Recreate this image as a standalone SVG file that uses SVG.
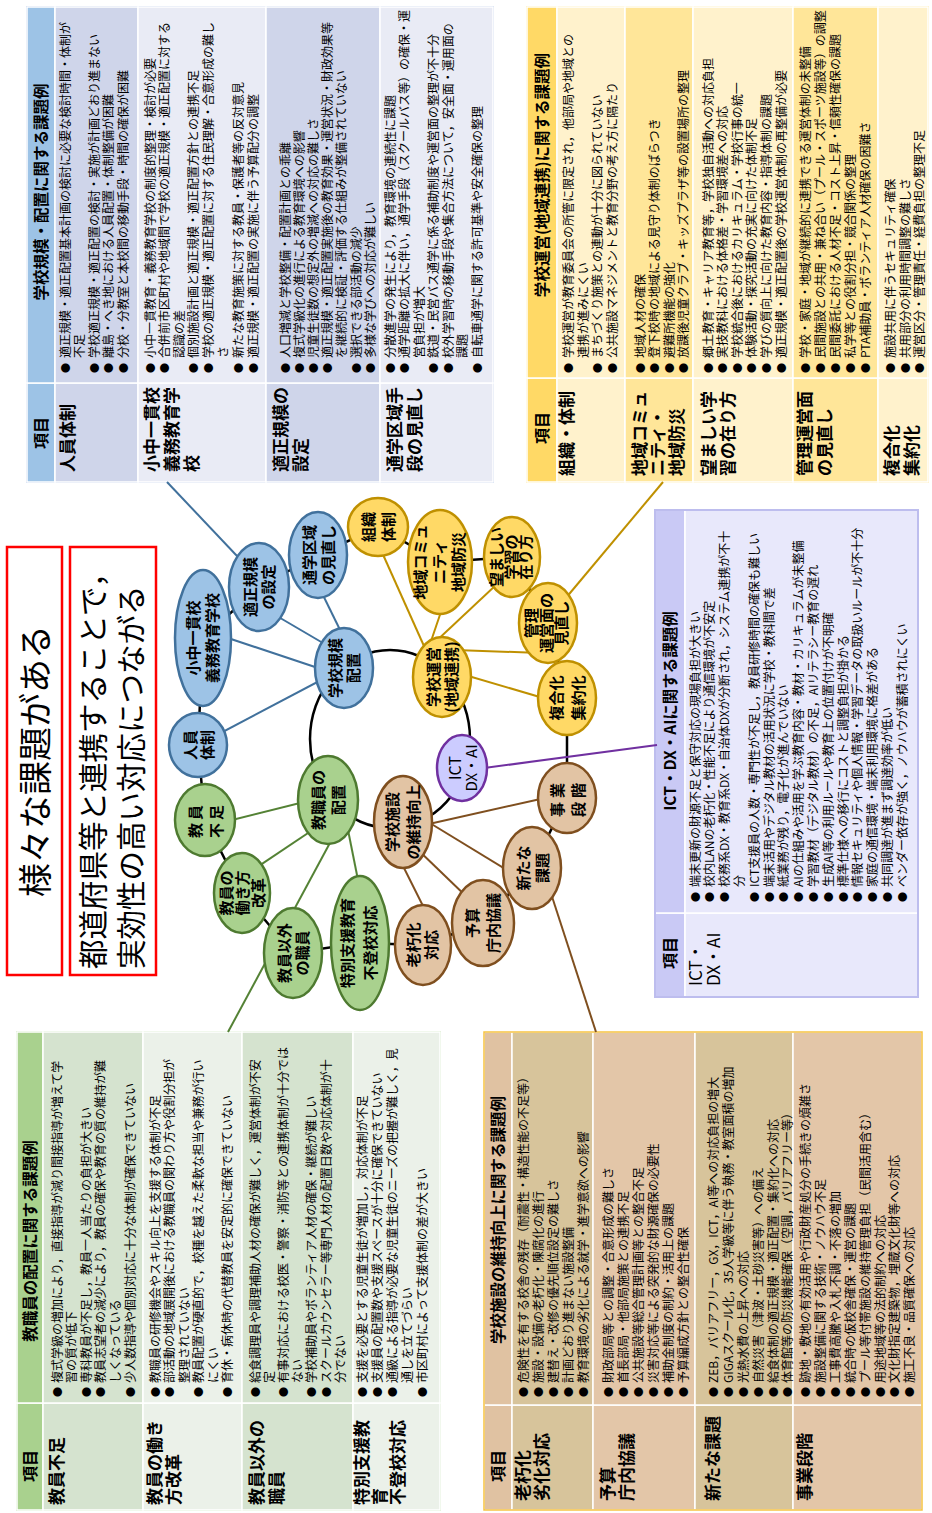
<svg xmlns="http://www.w3.org/2000/svg" width="932" height="1513" viewBox="0 0 932 1513">
<style>
text{font-family:"Noto Sans CJK JP","Noto Sans",sans-serif;fill:#000}
.c{font-size:12px}
.b{font-size:10px}
.h{font-size:15.5px;font-weight:700;text-anchor:middle}
.k{font-size:16px;font-weight:700;text-anchor:middle}
.l{font-size:17px;font-weight:700}
.n{font-size:15px;font-weight:700;text-anchor:middle}
.cell{stroke:#fff;stroke-width:1.5}
.ring{fill:none;stroke:#000;stroke-width:2.5}
.bl{stroke:#41719C;stroke-width:2;fill:none}
.go{stroke:#BF9000;stroke-width:2;fill:none}
.br{stroke:#7F4F1F;stroke-width:2;fill:none}
.gr{stroke:#548235;stroke-width:2;fill:none}
.pu{stroke:#7030A0;stroke-width:2;fill:none}
.eb{fill:#9DC3E6;stroke:#41719C;stroke-width:2.5}
.eg{fill:#FFD966;stroke:#BF9000;stroke-width:2.5}
.ep{fill:#CCCCFF;stroke:#7030A0;stroke-width:2.5}
.et{fill:#E2C4A4;stroke:#7F4F1F;stroke-width:2.5}
.en{fill:#A9D18E;stroke:#4E7A30;stroke-width:2.5}
</style>
<g transform="translate(0,1513) rotate(-90)">

<!-- Title boxes -->
<g id="title1">
<rect x="538" y="7" width="428" height="55" fill="#fff" stroke="#FF0000" stroke-width="2.5"/>
<text x="752" y="48" font-size="34" text-anchor="middle">様々な課題がある</text>
</g>
<g id="title2">
<rect x="538" y="70" width="428" height="86" fill="#fff" stroke="#FF0000" stroke-width="2.5"/>
<text x="544" y="104" font-size="29.5">都道府県等と連携することで，</text>
<text x="544" y="142" font-size="29.5">実効性の高い対応につながる</text>
</g>

<!-- Table A: 学校規模・配置 -->
<g id="table-scale">
<rect x="1031" y="27" width="475" height="466" fill="none" stroke="#B4C7E7" stroke-width="2"/>
<rect class="cell" x="1031" y="27" width="99" height="28" fill="#9DC3E6"/>
<rect class="cell" x="1130" y="27" width="376" height="28" fill="#9DC3E6"/>
<rect class="cell" x="1031" y="55" width="99" height="83" fill="#CFD5EA"/>
<rect class="cell" x="1130" y="55" width="376" height="83" fill="#CFD5EA"/>
<rect class="cell" x="1031" y="138" width="99" height="128" fill="#E9EBF5"/>
<rect class="cell" x="1130" y="138" width="376" height="128" fill="#E9EBF5"/>
<rect class="cell" x="1031" y="266" width="99" height="114" fill="#CFD5EA"/>
<rect class="cell" x="1130" y="266" width="376" height="114" fill="#CFD5EA"/>
<rect class="cell" x="1031" y="380" width="99" height="113" fill="#E9EBF5"/>
<rect class="cell" x="1130" y="380" width="376" height="113" fill="#E9EBF5"/>
<text class="k" x="1080" y="47">項目</text>
<text class="h" x="1321" y="47">学校規模・配置に関する課題例</text>
<text class="l" x="1041" y="74">人員体制</text>
<text class="l" x="1041" y="158">小中一貫校</text>
<text class="l" x="1041" y="178">義務教育学</text>
<text class="l" x="1041" y="198">校</text>
<text class="l" x="1041" y="287">適正規模の</text>
<text class="l" x="1041" y="307">設定</text>
<text class="l" x="1041" y="401">通学区域手</text>
<text class="l" x="1041" y="421">段の見直し</text>
<text class="c" y="69.5"><tspan class="b" x="1140">●</tspan><tspan x="1155">適正規模・適正配置基本計画の検討に必要な検討時間・体制が</tspan></text>
<text class="c" x="1155" y="84.1">不足</text>
<text class="c" y="98.7"><tspan class="b" x="1140">●</tspan><tspan x="1155">学校適正規模・適正配置の検討・実施が計画どおり進まない</tspan></text>
<text class="c" y="113.3"><tspan class="b" x="1140">●</tspan><tspan x="1155">離島・へき地における人員配置・体制整備が困難</tspan></text>
<text class="c" y="127.9"><tspan class="b" x="1140">●</tspan><tspan x="1155">分校・分教室と本校間の移動手段・時間の確保が困難</tspan></text>
<text class="c" y="154.5"><tspan class="b" x="1140">●</tspan><tspan x="1155">小中一貫教育・義務教育学校の制度的整理・検討が必要</tspan></text>
<text class="c" y="169.1"><tspan class="b" x="1140">●</tspan><tspan x="1155">合併前市区町村や地域間で学校の適正規模・適正配置に対する</tspan></text>
<text class="c" x="1155" y="183.7">認識の差</text>
<text class="c" y="198.3"><tspan class="b" x="1140">●</tspan><tspan x="1155">個別施設計画と適正規模・適正配置方針との連携不足</tspan></text>
<text class="c" y="212.9"><tspan class="b" x="1140">●</tspan><tspan x="1155">学校の適正規模・適正配置に対する住民理解・合意形成の難し</tspan></text>
<text class="c" x="1155" y="227.5">さ</text>
<text class="c" y="243"><tspan class="b" x="1140">●</tspan><tspan x="1155">新たな教育施策に対する教員・保護者等の反対意見</tspan></text>
<text class="c" y="257.6"><tspan class="b" x="1140">●</tspan><tspan x="1155">適正規模・適正配置の実施に伴う予算配分の調整</tspan></text>
<text class="c" y="289.5"><tspan class="b" x="1140">●</tspan><tspan x="1155">人口増減と学校整備・配置計画との乖離</tspan></text>
<text class="c" y="303.7"><tspan class="b" x="1140">●</tspan><tspan x="1155">複式学級化の進行による教育環境への影響</tspan></text>
<text class="c" y="317.9"><tspan class="b" x="1140">●</tspan><tspan x="1155">児童生徒数の想定外の増減への対応の難しさ</tspan></text>
<text class="c" y="332.1"><tspan class="b" x="1140">●</tspan><tspan x="1155">適正規模・適正配置実施後の教育効果・運営状況・財政効果等</tspan></text>
<text class="c" x="1155" y="346.3">を継続的に検証・評価する仕組みが整備されていない</text>
<text class="c" y="360.5"><tspan class="b" x="1140">●</tspan><tspan x="1155">選択できる部活動の減少</tspan></text>
<text class="c" y="374.7"><tspan class="b" x="1140">●</tspan><tspan x="1155">多様な学びへの対応が難しい</tspan></text>
<text class="c" y="394.5"><tspan class="b" x="1140">●</tspan><tspan x="1155">分散進学の発生により，教育環境の連続性に課題</tspan></text>
<text class="c" y="409"><tspan class="b" x="1140">●</tspan><tspan x="1155">通学距離の拡大に伴い，通学手段（スクールバス等）の確保・運</tspan></text>
<text class="c" x="1155" y="423.5">営負担が増大</text>
<text class="c" y="438"><tspan class="b" x="1140">●</tspan><tspan x="1155">鉄道・民営バス通学に係る補助制度や運営面の整理が不十分</tspan></text>
<text class="c" y="452.5"><tspan class="b" x="1140">●</tspan><tspan x="1155">校外学習時の移動手段や集合方法について，安全面・運用面の</tspan></text>
<text class="c" x="1155" y="467">課題</text>
<text class="c" y="481.5"><tspan class="b" x="1140">●</tspan><tspan x="1155">自転車通学に関する許可基準や安全確保の整理</tspan></text>
</g>

<!-- Table B: 学校運営 -->
<g id="table-management">
<rect x="1031" y="527" width="475" height="401" fill="none" stroke="#FFE699" stroke-width="2"/>
<rect class="cell" x="1031" y="527" width="104" height="30" fill="#FFD966"/>
<rect class="cell" x="1135" y="527" width="371" height="30" fill="#FFD966"/>
<rect class="cell" x="1031" y="557" width="104" height="68" fill="#FFF2CC"/>
<rect class="cell" x="1135" y="557" width="371" height="68" fill="#FFF2CC"/>
<rect class="cell" x="1031" y="625" width="104" height="68" fill="#FFE699"/>
<rect class="cell" x="1135" y="625" width="371" height="68" fill="#FFE699"/>
<rect class="cell" x="1031" y="693" width="104" height="100" fill="#FFF2CC"/>
<rect class="cell" x="1135" y="693" width="371" height="100" fill="#FFF2CC"/>
<rect class="cell" x="1031" y="793" width="104" height="85" fill="#FFE699"/>
<rect class="cell" x="1135" y="793" width="371" height="85" fill="#FFE699"/>
<rect class="cell" x="1031" y="878" width="104" height="50" fill="#FFF2CC"/>
<rect class="cell" x="1135" y="878" width="371" height="50" fill="#FFF2CC"/>
<text class="k" x="1085" y="548">項目</text>
<text class="h" x="1338" y="548">学校運営(地域連携)に関する課題例</text>
<text class="l" x="1037" y="573">組織・体制</text>
<text class="l" x="1037" y="646">地域コミュ</text>
<text class="l" x="1037" y="664">ニティ・</text>
<text class="l" x="1037" y="683">地域防災</text>
<text class="l" x="1037" y="715">望ましい学</text>
<text class="l" x="1037" y="734">習の在り方</text>
<text class="l" x="1037" y="811">管理運営面</text>
<text class="l" x="1037" y="831">の見直し</text>
<text class="l" x="1037" y="898">複合化</text>
<text class="l" x="1037" y="918">集約化</text>
<text class="c" y="572.5"><tspan class="b" x="1140">●</tspan><tspan x="1155">学校運営が教育委員会の所管に限定され，他部局や地域との</tspan></text>
<text class="c" x="1155" y="587.5">連携が進みにくい</text>
<text class="c" y="602"><tspan class="b" x="1140">●</tspan><tspan x="1155">まちづくり施策との連動が十分に図られていない</tspan></text>
<text class="c" y="616.5"><tspan class="b" x="1140">●</tspan><tspan x="1155">公共施設マネジメントと教育分野の考え方に隔たり</tspan></text>
<text class="c" y="644.5"><tspan class="b" x="1140">●</tspan><tspan x="1155">地域人材の確保</tspan></text>
<text class="c" y="659"><tspan class="b" x="1140">●</tspan><tspan x="1155">登下校時の地域による見守り体制のばらつき</tspan></text>
<text class="c" y="673.5"><tspan class="b" x="1140">●</tspan><tspan x="1155">避難所機能の強化</tspan></text>
<text class="c" y="688"><tspan class="b" x="1140">●</tspan><tspan x="1155">放課後児童クラブ・キッズプラザ等の設置場所の整理</tspan></text>
<text class="c" y="712.5"><tspan class="b" x="1140">●</tspan><tspan x="1155">郷土教育・キャリア教育等，学校独自活動への対応負担</tspan></text>
<text class="c" y="727.1"><tspan class="b" x="1140">●</tspan><tspan x="1155">実技教科における体格差・学習環境差への対応</tspan></text>
<text class="c" y="741.7"><tspan class="b" x="1140">●</tspan><tspan x="1155">学校統合後におけるカリキュラム・学校行事の統一</tspan></text>
<text class="c" y="756.3"><tspan class="b" x="1140">●</tspan><tspan x="1155">体験活動・探究活動の充実に向けた体制不足</tspan></text>
<text class="c" y="770.9"><tspan class="b" x="1140">●</tspan><tspan x="1155">学びの質向上に向けた教育内容・指導体制の課題</tspan></text>
<text class="c" y="785.5"><tspan class="b" x="1140">●</tspan><tspan x="1155">適正規模・適正配置後の学校運営体制の再整備が必要</tspan></text>
<text class="c" y="809.5"><tspan class="b" x="1140">●</tspan><tspan x="1155">学校・家庭・地域が継続的に連携できる運営体制の未整備</tspan></text>
<text class="c" y="824.5"><tspan class="b" x="1140">●</tspan><tspan x="1155">民間施設との共用・兼ね合い（プール・スポーツ施設等）の調整</tspan></text>
<text class="c" y="839.5"><tspan class="b" x="1140">●</tspan><tspan x="1155">民間委託における人材不足・コスト上昇・信頼性確保の課題</tspan></text>
<text class="c" y="854.5"><tspan class="b" x="1140">●</tspan><tspan x="1155">私学等との役割分担・競合関係の整理</tspan></text>
<text class="c" y="869.5"><tspan class="b" x="1140">●</tspan><tspan x="1155">PTA補助員・ボランティア人材確保の困難さ</tspan></text>
<text class="c" y="894.5"><tspan class="b" x="1140">●</tspan><tspan x="1155">施設共用に伴うセキュリティ確保</tspan></text>
<text class="c" y="909.5"><tspan class="b" x="1140">●</tspan><tspan x="1155">共用部分の利用時間調整の難しさ</tspan></text>
<text class="c" y="924"><tspan class="b" x="1140">●</tspan><tspan x="1155">運営区分・管理責任・経費負担の整理不足</tspan></text>
</g>

<!-- Table C: ICT -->
<g id="table-ict">
<rect class="cell" x="516" y="655" width="84" height="30" fill="#C9C9F5"/>
<rect class="cell" x="600" y="655" width="403" height="30" fill="#C9C9F5"/>
<rect class="cell" x="516" y="685" width="84" height="233" fill="#E8E8FB"/>
<rect class="cell" x="600" y="685" width="403" height="233" fill="#E8E8FB"/>
<rect x="516" y="655" width="487" height="263" fill="none" stroke="#BDBDEE" stroke-width="2"/>
<text class="k" x="560" y="676">項目</text>
<text class="h" x="802" y="676">ICT・DX・AIに関する課題例</text>
<text x="527" y="702" font-size="17">ICT・</text>
<text x="527" y="720" font-size="17">DX・AI</text>
<text class="c" y="699.5"><tspan class="b" x="611">●</tspan><tspan x="626">端末更新の財源不足と保守対応の現場負担が大きい</tspan></text>
<text class="c" y="714.3"><tspan class="b" x="611">●</tspan><tspan x="626">校内LANの老朽化・性能不足により通信環境が不安定</tspan></text>
<text class="c" y="729.1"><tspan class="b" x="611">●</tspan><tspan x="626">校務系DX・教育系DX・自治体DXが分断され，システム連携が不十</tspan></text>
<text class="c" x="626" y="743.9">分</text>
<text class="c" y="758.7"><tspan class="b" x="611">●</tspan><tspan x="626">ICT支援員の人数・専門性が不足し，教員研修時間の確保も難しい</tspan></text>
<text class="c" y="773.5"><tspan class="b" x="611">●</tspan><tspan x="626">端末活用やデジタル教材の活用状況に学校・教科間で差</tspan></text>
<text class="c" y="788.3"><tspan class="b" x="611">●</tspan><tspan x="626">紙業務が残り，電子化が進んでいない</tspan></text>
<text class="c" y="803.1"><tspan class="b" x="611">●</tspan><tspan x="626">AIの仕組みや活用を学ぶ教育内容・教材・カリキュラムが未整備</tspan></text>
<text class="c" y="817.9"><tspan class="b" x="611">●</tspan><tspan x="626">学習教材（デジタル教材）の不足，AIリテラシー教育の遅れ</tspan></text>
<text class="c" y="832.7"><tspan class="b" x="611">●</tspan><tspan x="626">生成AI等の利用ルールや教育上の位置付けが不明確</tspan></text>
<text class="c" y="847.5"><tspan class="b" x="611">●</tspan><tspan x="626">標準仕様への移行にコストと調整負担が掛かる</tspan></text>
<text class="c" y="862.3"><tspan class="b" x="611">●</tspan><tspan x="626">情報セキュリティや個人情報・学習データの取扱いルールが不十分</tspan></text>
<text class="c" y="877.1"><tspan class="b" x="611">●</tspan><tspan x="626">家庭の通信環境・端末利用環境に格差がある</tspan></text>
<text class="c" y="891.9"><tspan class="b" x="611">●</tspan><tspan x="626">共同調達が進まず調達効率が低い</tspan></text>
<text class="c" y="906.7"><tspan class="b" x="611">●</tspan><tspan x="626">ベンダー依存が強く，ノウハウが蓄積されにくい</tspan></text>
</g>

<!-- Table D: 教職員 -->
<g id="table-staff">
<rect x="3" y="17" width="478" height="423" fill="none" stroke="#C5E0B4" stroke-width="2"/>
<rect class="cell" x="3" y="17" width="107" height="26" fill="#A9D18E"/>
<rect class="cell" x="110" y="17" width="371" height="26" fill="#A9D18E"/>
<rect class="cell" x="3" y="43" width="107" height="100" fill="#D5E3CF"/>
<rect class="cell" x="110" y="43" width="371" height="100" fill="#D5E3CF"/>
<rect class="cell" x="3" y="143" width="107" height="99" fill="#EBF1E9"/>
<rect class="cell" x="110" y="143" width="371" height="99" fill="#EBF1E9"/>
<rect class="cell" x="3" y="242" width="107" height="111" fill="#D5E3CF"/>
<rect class="cell" x="110" y="242" width="371" height="111" fill="#D5E3CF"/>
<rect class="cell" x="3" y="353" width="107" height="87" fill="#EBF1E9"/>
<rect class="cell" x="110" y="353" width="371" height="87" fill="#EBF1E9"/>
<text class="k" x="47" y="36">項目</text>
<text class="h" x="272" y="36">教職員の配置に関する課題例</text>
<text class="l" x="8" y="63">教員不足</text>
<text class="l" x="8" y="161">教員の働き</text>
<text class="l" x="8" y="180">方改革</text>
<text class="l" x="8" y="263">教員以外の</text>
<text class="l" x="8" y="283">職員</text>
<text class="l" x="8" y="368">特別支援教</text>
<text class="l" x="8" y="386">育</text>
<text class="l" x="8" y="404">不登校対応</text>
<text class="c" y="61.5"><tspan class="b" x="116">●</tspan><tspan x="130">複式学級の増加により，直接指導が減り間接指導が増えて学</tspan></text>
<text class="c" x="130" y="76.1">習の質が低下</text>
<text class="c" y="90.7"><tspan class="b" x="116">●</tspan><tspan x="130">専科教員が不足し，教員一人当たりの負担が大きい</tspan></text>
<text class="c" y="105.3"><tspan class="b" x="116">●</tspan><tspan x="130">教員志望者の減少により，教員の確保や教育の質の維持が難</tspan></text>
<text class="c" x="130" y="119.9">しくなっている</text>
<text class="c" y="134.5"><tspan class="b" x="116">●</tspan><tspan x="130">少人数指導や個別対応に十分な体制が確保できていない</tspan></text>
<text class="c" y="159.5"><tspan class="b" x="116">●</tspan><tspan x="130">教職員の研修機会やスキル向上を支援する体制が不足</tspan></text>
<text class="c" y="174"><tspan class="b" x="116">●</tspan><tspan x="130">部活動の地域展開後における教職員の関わり方や役割分担が</tspan></text>
<text class="c" x="130" y="188.5">整理されていない</text>
<text class="c" y="203"><tspan class="b" x="116">●</tspan><tspan x="130">教員配置が硬直的で，校種を越えた柔軟な担当や兼務が行い</tspan></text>
<text class="c" x="130" y="217.5">にくい</text>
<text class="c" y="232"><tspan class="b" x="116">●</tspan><tspan x="130">育休・病休時の代替教員を安定的に確保できていない</tspan></text>
<text class="c" y="259.5"><tspan class="b" x="116">●</tspan><tspan x="130">給食調理員や調理補助人材の確保が難しく，運営体制が不安</tspan></text>
<text class="c" x="130" y="273.7">定</text>
<text class="c" y="287.9"><tspan class="b" x="116">●</tspan><tspan x="130">有事対応における校医・警察・消防等との連携体制が十分では</tspan></text>
<text class="c" x="130" y="302.1">ない</text>
<text class="c" y="316.3"><tspan class="b" x="116">●</tspan><tspan x="130">学校補助員やボランティア人材の確保・継続が難しい</tspan></text>
<text class="c" y="330.5"><tspan class="b" x="116">●</tspan><tspan x="130">スクールカウンセラー等専門人材の配置日数や対応体制が十</tspan></text>
<text class="c" x="130" y="344.7">分でない</text>
<text class="c" y="366.5"><tspan class="b" x="116">●</tspan><tspan x="130">支援を必要とする児童生徒が増加し，対応体制が不足</tspan></text>
<text class="c" y="381.5"><tspan class="b" x="116">●</tspan><tspan x="130">支援員の配置数や支援スペースが十分に確保できていない</tspan></text>
<text class="c" y="396.5"><tspan class="b" x="116">●</tspan><tspan x="130">通級による指導が必要な児童生徒のニーズの把握が難しく，見</tspan></text>
<text class="c" x="130" y="411.5">通しを立てづらい</text>
<text class="c" y="426.5"><tspan class="b" x="116">●</tspan><tspan x="130">市区町村によって支援体制の差が大きい</tspan></text>
</g>

<!-- Table E: 学校施設 -->
<g id="table-facility">
<rect class="cell" x="3" y="484" width="105" height="28" fill="#E0C2A2"/>
<rect class="cell" x="108" y="484" width="373" height="28" fill="#E0C2A2"/>
<rect class="cell" x="3" y="512" width="105" height="81" fill="#D7C49B"/>
<rect class="cell" x="108" y="512" width="373" height="81" fill="#D7C49B"/>
<rect class="cell" x="3" y="593" width="105" height="102" fill="#E3C6A8"/>
<rect class="cell" x="108" y="593" width="373" height="102" fill="#E3C6A8"/>
<rect class="cell" x="3" y="695" width="105" height="98" fill="#D7C49B"/>
<rect class="cell" x="108" y="695" width="373" height="98" fill="#D7C49B"/>
<rect class="cell" x="3" y="793" width="105" height="129" fill="#E3C6A8"/>
<rect class="cell" x="108" y="793" width="373" height="129" fill="#E3C6A8"/>
<rect x="3" y="484" width="478" height="438" fill="none" stroke="#F6C343" stroke-width="1.5"/>
<text class="k" x="47" y="504">項目</text>
<text class="h" x="293" y="504">学校施設の維持向上に関する課題例</text>
<text class="l" x="12" y="529">老朽化</text>
<text class="l" x="12" y="548">劣化対応</text>
<text class="l" x="12" y="614">予算</text>
<text class="l" x="12" y="633">庁内協議</text>
<text class="l" x="12" y="719">新たな課題</text>
<text class="l" x="12" y="811">事業段階</text>
<text class="c" y="527.5"><tspan class="b" x="116">●</tspan><tspan x="130">危険性を有する校舎の残存（耐震性・構造性能の不足等）</tspan></text>
<text class="c" y="542.5"><tspan class="b" x="116">●</tspan><tspan x="130">施設・設備の老朽化・陳腐化の進行</tspan></text>
<text class="c" y="557.5"><tspan class="b" x="116">●</tspan><tspan x="130">建替え・改修の優先順位設定の難しさ</tspan></text>
<text class="c" y="572.5"><tspan class="b" x="116">●</tspan><tspan x="130">計画どおり進まない施設整備</tspan></text>
<text class="c" y="587.5"><tspan class="b" x="116">●</tspan><tspan x="130">教育環境の劣化による就学・進学意欲への影響</tspan></text>
<text class="c" y="612.5"><tspan class="b" x="116">●</tspan><tspan x="130">財政部局等との調整・合意形成の難しさ</tspan></text>
<text class="c" y="627.5"><tspan class="b" x="116">●</tspan><tspan x="130">首長部局・他部局施策との連携不足</tspan></text>
<text class="c" y="642.5"><tspan class="b" x="116">●</tspan><tspan x="130">公共施設等総合管理計画等との整合不足</tspan></text>
<text class="c" y="657.5"><tspan class="b" x="116">●</tspan><tspan x="130">災害対応等による突発的な財源確保の必要性</tspan></text>
<text class="c" y="672.5"><tspan class="b" x="116">●</tspan><tspan x="130">補助金制度の制約・活用上の課題</tspan></text>
<text class="c" y="687.5"><tspan class="b" x="116">●</tspan><tspan x="130">予算編成方針との整合性確保</tspan></text>
<text class="c" y="717.5"><tspan class="b" x="116">●</tspan><tspan x="130">ZEB，バリアフリー，GX，ICT，AI等への対応負担の増大</tspan></text>
<text class="c" y="732.5"><tspan class="b" x="116">●</tspan><tspan x="130">GIGAスクール化，35人学級等に伴う執務・教室面積の増加</tspan></text>
<text class="c" y="747.5"><tspan class="b" x="116">●</tspan><tspan x="130">光熱水費の上昇への対応</tspan></text>
<text class="c" y="762.5"><tspan class="b" x="116">●</tspan><tspan x="130">自然災害（津波・土砂災害等）への備え</tspan></text>
<text class="c" y="777.5"><tspan class="b" x="116">●</tspan><tspan x="130">給食体制の適正規模・適正配置・集約化への対応</tspan></text>
<text class="c" y="791.5"><tspan class="b" x="116">●</tspan><tspan x="130">体育館等の防災機能確保（空調，バリアフリー等）</tspan></text>
<text class="c" y="809.5"><tspan class="b" x="116">●</tspan><tspan x="130">跡地・敷地の有効活用や行政財産処分の手続きの煩雑さ</tspan></text>
<text class="c" y="824.5"><tspan class="b" x="116">●</tspan><tspan x="130">施設整備に関する技術・ノウハウ不足</tspan></text>
<text class="c" y="839.5"><tspan class="b" x="116">●</tspan><tspan x="130">工事費高騰や入札不調・不落の増加</tspan></text>
<text class="c" y="854.5"><tspan class="b" x="116">●</tspan><tspan x="130">統合時の仮校舎確保・運営の課題</tspan></text>
<text class="c" y="869.5"><tspan class="b" x="116">●</tspan><tspan x="130">プール等付帯施設の維持管理負担（民間活用含む）</tspan></text>
<text class="c" y="884.5"><tspan class="b" x="116">●</tspan><tspan x="130">用途地域等の法的制約への対応</tspan></text>
<text class="c" y="899"><tspan class="b" x="116">●</tspan><tspan x="130">文化財指定建築物，埋蔵文化財等への対応</tspan></text>
<text class="c" y="913.5"><tspan class="b" x="116">●</tspan><tspan x="130">施工不良・品質確保への対応</tspan></text>
</g>

<!-- Connectors -->
<g id="connectors">
<ellipse class="ring" cx="774" cy="390" rx="89" ry="80"/>
<polygon class="ring" points="768,198 875,203 926,259 958,318 986,378 951,440 956,512 890,548 815,567 715,567 645,532 590,483 568,423 570,360 560,293 620,242 693,205"/>
<line class="bl" x1="845" y1="344" x2="768" y2="198"/>
<line class="bl" x1="881" y1="210" x2="841" y2="330"/>
<line class="bl" x1="901" y1="270" x2="860" y2="340"/>
<line class="bl" x1="938" y1="255" x2="1031" y2="167"/>
<line class="bl" x1="928" y1="318" x2="873" y2="345"/>
<line class="go" x1="983" y1="372" x2="858" y2="428"/>
<line class="go" x1="913" y1="445" x2="863" y2="428"/>
<line class="go" x1="943" y1="512" x2="868" y2="432"/>
<line class="go" x1="863" y1="455" x2="860" y2="540"/>
<line class="go" x1="838" y1="465" x2="813" y2="550"/>
<line class="go" x1="908" y1="560" x2="1031" y2="663"/>
<line class="pu" x1="742" y1="462" x2="768" y2="657"/>
<line class="br" x1="687" y1="420" x2="715" y2="545"/>
<line class="br" x1="696" y1="420" x2="641" y2="510"/>
<line class="br" x1="666" y1="415" x2="613" y2="470"/>
<line class="br" x1="653" y1="400" x2="603" y2="425"/>
<line class="br" x1="638" y1="545" x2="481" y2="596"/>
<line class="gr" x1="690" y1="220" x2="715" y2="320"/>
<line class="gr" x1="641" y1="250" x2="688" y2="320"/>
<line class="gr" x1="698" y1="345" x2="481" y2="228"/>
<line class="gr" x1="698" y1="345" x2="613" y2="362"/>
</g>

<!-- Nodes -->
<g id="n-scale-hub"><ellipse class="eb" cx="845" cy="344" rx="40" ry="29"/><text class="n" font-size="16" x="845" y="340.5">学校規模</text><text class="n" font-size="16" x="845" y="358.5">配置</text></g>
<g id="n-staffing"><ellipse class="eb" cx="768" cy="198" rx="32" ry="29"/><text class="n" x="768" y="196">人員</text><text class="n" x="768" y="213">体制</text></g>
<g id="n-integrated"><ellipse class="eb" cx="875" cy="203" rx="68" ry="28"/><text class="n" x="875" y="198.5">小中一貫校</text><text class="n" x="875" y="218">義務教育学校</text></g>
<g id="n-proper-scale"><ellipse class="eb" cx="926" cy="259" rx="44" ry="30"/><text class="n" x="926" y="255.5">適正規模</text><text class="n" x="926" y="273.5">の設定</text></g>
<g id="n-commute"><ellipse class="eb" cx="958" cy="318" rx="43" ry="29"/><text class="n" x="958" y="314.5">通学区域</text><text class="n" x="958" y="333.5">の見直し</text></g>

<g id="n-mgmt-hub"><ellipse class="eg" cx="836" cy="442" rx="40" ry="29"/><text class="n" x="836" y="438.5">学校運営</text><text class="n" font-size="14" x="836" y="457">(地域連携)</text></g>
<g id="n-org"><ellipse class="eg" cx="986" cy="378" rx="29" ry="30"/><text class="n" x="986" y="373.5">組織</text><text class="n" x="986" y="393.5">体制</text></g>
<g id="n-community"><ellipse class="eg" cx="951" cy="440" rx="52" ry="32"/><text class="n" x="951" y="425.5">地域コミュ</text><text class="n" x="951" y="444.5">ニティ</text><text class="n" x="951" y="463.5">地域防災</text></g>
<g id="n-learning"><ellipse class="eg" cx="956" cy="512" rx="40" ry="28"/><text class="n" font-size="14" x="956" y="502">望ましい</text><text class="n" font-size="14" x="956" y="516.5">学習の</text><text class="n" font-size="14" x="956" y="531">在り方</text></g>
<g id="n-admin"><ellipse class="eg" cx="890" cy="548" rx="40" ry="29"/><text class="n" font-size="14" x="890" y="537">管理</text><text class="n" font-size="14" x="890" y="552">運営面の</text><text class="n" font-size="14" x="890" y="567">見直し</text></g>
<g id="n-complex"><ellipse class="eg" cx="815" cy="567" rx="37" ry="29"/><text class="n" x="815" y="561.5">複合化</text><text class="n" x="815" y="583.5">集約化</text></g>

<g id="n-ict"><ellipse class="ep" cx="745" cy="462" rx="33" ry="25"/><text x="745" y="461" font-size="16" text-anchor="middle">ICT</text><text x="745" y="477" font-size="15" text-anchor="middle">DX・AI</text></g>

<g id="n-facility-hub"><ellipse class="et" cx="691" cy="403" rx="46" ry="29"/><text class="n" x="691" y="397.5">学校施設</text><text class="n" x="691" y="418.5">の維持向上</text></g>
<g id="n-project"><ellipse class="et" cx="715" cy="567" rx="35" ry="29"/><text class="n" x="715" y="562.5" letter-spacing="4">事業</text><text class="n" x="715" y="583.5" letter-spacing="4">段階</text></g>
<g id="n-new"><ellipse class="et" cx="645" cy="532" rx="41" ry="29"/><text class="n" x="645" y="528.5">新たな</text><text class="n" x="645" y="547.5">課題</text></g>
<g id="n-budget"><ellipse class="et" cx="590" cy="483" rx="43" ry="31"/><text class="n" x="590" y="477.5">予算</text><text class="n" x="590" y="498.5">庁内協議</text></g>
<g id="n-aging"><ellipse class="et" cx="568" cy="423" rx="40" ry="28"/><text class="n" x="568" y="418.5">老朽化</text><text class="n" x="568" y="436.5">対応</text></g>

<g id="n-staff-hub"><ellipse class="en" cx="713" cy="328" rx="44" ry="30"/><text class="n" x="713" y="323.5">教職員の</text><text class="n" x="713" y="343.5">配置</text></g>
<g id="n-shortage"><ellipse class="en" cx="693" cy="205" rx="36" ry="30"/><text class="n" x="693" y="200.5" letter-spacing="3">教員</text><text class="n" x="693" y="221.5" letter-spacing="3">不足</text></g>
<g id="n-workstyle"><ellipse class="en" cx="620" cy="242" rx="40" ry="28"/><text class="n" x="620" y="231.5">教員の</text><text class="n" x="620" y="247.5">働き方</text><text class="n" x="620" y="263.5">改革</text></g>
<g id="n-nonteaching"><ellipse class="en" cx="560" cy="293" rx="45" ry="29"/><text class="n" x="560" y="289.5">教員以外</text><text class="n" x="560" y="307.5">の職員</text></g>
<g id="n-special"><ellipse class="en" cx="570" cy="360" rx="67" ry="29"/><text class="n" x="570" y="352.5">特別支援教育</text><text class="n" x="570" y="375.5">不登校対応</text></g>

</g>
</svg>
